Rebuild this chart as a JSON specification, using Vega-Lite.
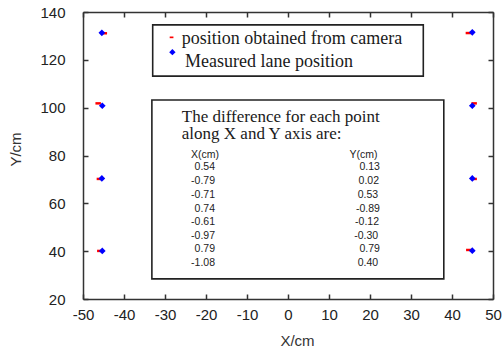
{
  "$schema": "https://vega.github.io/schema/vega-lite/v6.json",
  "width": 410,
  "height": 287,
  "autosize": "none",
  "padding": {"left": 83, "top": 12, "right": 9, "bottom": 55},
  "background": "white",
  "config": {
    "view": {"stroke": null},
    "axis": {
      "grid": false,
      "domainColor": "#333",
      "domainWidth": 1.5,
      "tickColor": "#333",
      "tickWidth": 1.5,
      "tickSize": -5,
      "labelFont": "Liberation Sans",
      "labelFontSize": 15,
      "labelColor": "#222",
      "titleFont": "Liberation Sans",
      "titleFontSize": 15,
      "titleFontWeight": "normal",
      "titleColor": "#333"
    }
  },
  "datasets": {
    "camera": [
      {"x": -44.8, "y": 131.1}, {"x": -46.3, "y": 101.8}, {"x": -46.0, "y": 70.2}, {"x": -45.9, "y": 40.1},
      {"x": 44.0, "y": 131.2}, {"x": 45.4, "y": 101.8}, {"x": 45.4, "y": 70.2}, {"x": 44.1, "y": 40.5}
    ],
    "measured": [
      {"x": -45.4, "y": 131.3}, {"x": -45.3, "y": 100.8}, {"x": -45.4, "y": 70.4}, {"x": -45.3, "y": 40.1},
      {"x": 44.95, "y": 131.5}, {"x": 44.95, "y": 100.8}, {"x": 44.95, "y": 70.4}, {"x": 44.95, "y": 40.2}
    ],
    "boxes": [
      {"x": -33, "x2": 33, "y": 134.6, "y2": 113.2},
      {"x": -33.2, "x2": 38, "y": 103.2, "y2": 28.4}
    ],
    "legendRed": [{"x": -28.4, "y": 129.4}],
    "legendBlue": [{"x": -28.2, "y": 123.2}],
    "legendText": [
      {"text": "position obtained from camera", "x": -25.9, "y": 128.6},
      {"text": "Measured lane position", "x": -25.1, "y": 119.2}
    ],
    "boxTitle": [
      {"text": "The difference  for each point", "x": -25.9, "y": 96.3},
      {"text": "along X and Y axis are:", "x": -25.9, "y": 88.8}
    ],
    "table": [
      {"text": "X(cm)", "x": -16.8, "y": 80.3}, {"text": "Y(cm)", "x": 21.8, "y": 80.3},
      {"text": "0.54", "x": -17.8, "y": 75.3}, {"text": "0.13", "x": 22.4, "y": 75.3},
      {"text": "-0.79", "x": -17.8, "y": 69.3}, {"text": "0.02", "x": 22.2, "y": 69.3},
      {"text": "-0.71", "x": -17.8, "y": 63.5}, {"text": "0.53", "x": 22.0, "y": 63.5},
      {"text": "0.74", "x": -17.8, "y": 57.6}, {"text": "-0.89", "x": 22.4, "y": 57.6},
      {"text": "-0.61", "x": -17.8, "y": 52.1}, {"text": "-0.12", "x": 22.2, "y": 52.1},
      {"text": "-0.97", "x": -17.8, "y": 46.5}, {"text": "-0.30", "x": 22.0, "y": 46.5},
      {"text": "0.79", "x": -17.8, "y": 40.9}, {"text": "0.79", "x": 22.4, "y": 40.9},
      {"text": "-1.08", "x": -17.8, "y": 34.9}, {"text": "0.40", "x": 22.0, "y": 34.9}
    ]
  },
  "layer": [
    {
      "data": {"name": "boxes"},
      "mark": {"type": "rect", "fill": "transparent", "stroke": "#222", "strokeWidth": 1.6},
      "encoding": {
        "x": {"field": "x", "type": "quantitative", "axis": null, "scale": {"domain": [-50, 50], "nice": false, "zero": false}},
        "x2": {"field": "x2"},
        "y": {"field": "y", "type": "quantitative", "axis": null, "scale": {"domain": [20, 140], "nice": false, "zero": false}},
        "y2": {"field": "y2"}
      }
    },
    {
      "data": {"name": "camera"},
      "mark": {"type": "point", "filled": true, "color": "#ff0000", "shape": "M-1,-0.45L1,-0.45L1,0.45L-1,0.45Z", "size": 30, "opacity": 1},
      "encoding": {
        "x": {"field": "x", "type": "quantitative", "scale": {"domain": [-50, 50], "nice": false, "zero": false},
          "axis": {"orient": "top", "labels": false, "title": null, "values": [-50, -40, -30, -20, -10, 0, 10, 20, 30, 40, 50]}},
        "y": {"field": "y", "type": "quantitative", "scale": {"domain": [20, 140], "nice": false, "zero": false},
          "axis": {"orient": "right", "labels": false, "title": null, "values": [20, 40, 60, 80, 100, 120, 140]}}
      }
    },
    {
      "data": {"name": "measured"},
      "mark": {"type": "point", "filled": true, "color": "#0000ff", "shape": "diamond", "size": 45, "opacity": 1},
      "encoding": {
        "x": {"field": "x", "type": "quantitative", "scale": {"domain": [-50, 50], "nice": false, "zero": false},
          "axis": {"orient": "bottom", "title": "X/cm", "values": [-50, -40, -30, -20, -10, 0, 10, 20, 30, 40, 50],
            "labelExpr": "'' + datum.value", "labelPadding": 13, "labelOverlap": false, "labelFlush": false, "titlePadding": 11, "titleX": 214}},
        "y": {"field": "y", "type": "quantitative", "scale": {"domain": [20, 140], "nice": false, "zero": false},
          "axis": {"orient": "left", "title": "Y/cm", "values": [20, 40, 60, 80, 100, 120, 140],
            "labelPadding": 23, "labelFlush": false, "titlePadding": 16, "titleY": 137}}
      }
    },
    {
      "data": {"name": "legendRed"},
      "mark": {"type": "point", "filled": true, "color": "#ff0000", "shape": "M-1,-0.45L1,-0.45L1,0.45L-1,0.45Z", "size": 14, "opacity": 1},
      "encoding": {
        "x": {"field": "x", "type": "quantitative", "axis": null},
        "y": {"field": "y", "type": "quantitative", "axis": null}
      }
    },
    {
      "data": {"name": "legendBlue"},
      "mark": {"type": "point", "filled": true, "color": "#0000ff", "shape": "diamond", "size": 40, "opacity": 1},
      "encoding": {
        "x": {"field": "x", "type": "quantitative", "axis": null},
        "y": {"field": "y", "type": "quantitative", "axis": null}
      }
    },
    {
      "data": {"name": "legendText"},
      "mark": {"type": "text", "align": "left", "baseline": "middle", "font": "Liberation Serif", "fontSize": 18, "color": "#1a1a1a"},
      "encoding": {
        "x": {"field": "x", "type": "quantitative", "axis": null},
        "y": {"field": "y", "type": "quantitative", "axis": null},
        "text": {"field": "text"}
      }
    },
    {
      "data": {"name": "boxTitle"},
      "mark": {"type": "text", "align": "left", "baseline": "middle", "font": "Liberation Serif", "fontSize": 17, "color": "#1a1a1a"},
      "encoding": {
        "x": {"field": "x", "type": "quantitative", "axis": null},
        "y": {"field": "y", "type": "quantitative", "axis": null},
        "text": {"field": "text"}
      }
    },
    {
      "data": {"name": "table"},
      "mark": {"type": "text", "align": "right", "baseline": "middle", "font": "Liberation Sans", "fontSize": 10.5, "color": "#222"},
      "encoding": {
        "x": {"field": "x", "type": "quantitative", "axis": null},
        "y": {"field": "y", "type": "quantitative", "axis": null},
        "text": {"field": "text"}
      }
    }
  ]
}
